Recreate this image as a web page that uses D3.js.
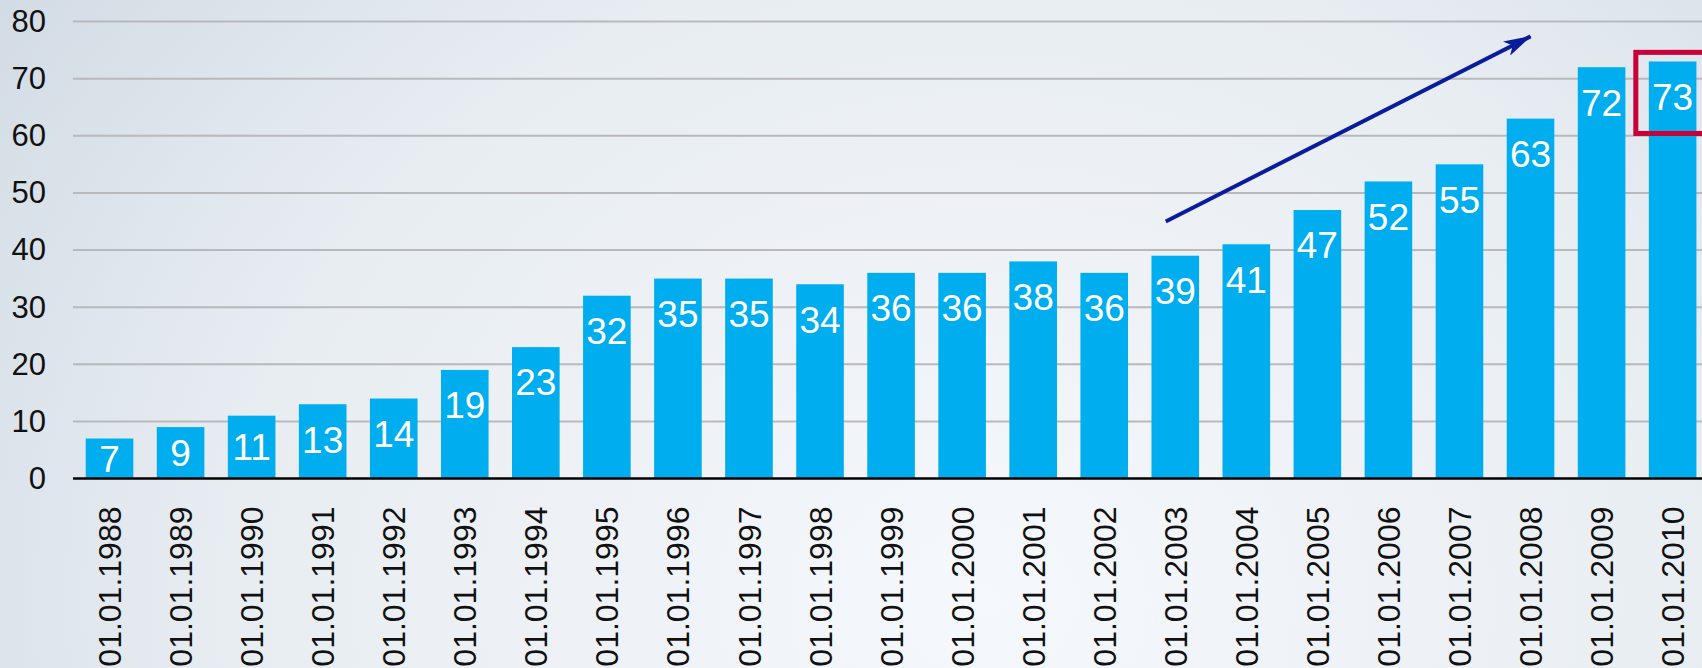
<!DOCTYPE html>
<html>
<head>
<meta charset="utf-8">
<script src="https://cdn.jsdelivr.net/npm/d3@7"></script>
<style>
  html, body { margin: 0; padding: 0; overflow: hidden; }
  svg { display: block; font-family: "Liberation Sans", Arial, sans-serif; }
</style>
</head>
<body>
<div id="chart"></div>
<script>
const categories = ['01.01.1988', '01.01.1989', '01.01.1990', '01.01.1991', '01.01.1992', '01.01.1993',
    '01.01.1994', '01.01.1995', '01.01.1996', '01.01.1997', '01.01.1998', '01.01.1999', '01.01.2000',
    '01.01.2001', '01.01.2002', '01.01.2003', '01.01.2004', '01.01.2005', '01.01.2006', '01.01.2007',
    '01.01.2008', '01.01.2009', '01.01.2010'];
const values = [7, 9, 11, 13, 14, 19, 23, 32, 35, 35, 34, 36, 36, 38, 36, 39, 41, 47, 52, 55, 63, 72, 73];
const yTicks = [0, 10, 20, 30, 40, 50, 60, 70, 80];

// trend arrow and highlight, in data units
const arrowFrom = {cat: '01.01.2003', at: 0.3, value: 45};
const arrowTo = {cat: '01.01.2008', at: 0.5, value: 77.4};
const highlight = {cat: '01.01.2010', top: 74.6, bottom: 60.4};

const W = 1702, H = 668;
const margin = {top: 21.5, left: 74, bottom: 189.5};
const plotBottom = H - margin.bottom;

const svg = d3.select('#chart').append('svg')
    .attr('width', W)
    .attr('height', H);

// -- background
const defs = svg.append('defs');
const grad = defs.append('radialGradient')
    .attr('id', 'bg')
    .attr('cx', '0.58').attr('cy', '0.9').attr('r', '0.8')
    .attr('gradientTransform', 'translate(0.58,0.9) scale(1,2.2) translate(-0.58,-0.9)');
grad.append('stop').attr('offset', '0').attr('stop-color', '#f5f8fc');
grad.append('stop').attr('offset', '0.55').attr('stop-color', '#e8edf2');
grad.append('stop').attr('offset', '1').attr('stop-color', '#cbd6e0');
svg.append('rect').attr('width', W).attr('height', H).attr('fill', 'url(#bg)');

const marker = defs.append('marker')
    .attr('id', 'arrowhead')
    .attr('viewBox', '0 0 28 16')
    .attr('refX', 27).attr('refY', 8)
    .attr('markerWidth', 28).attr('markerHeight', 16)
    .attr('markerUnits', 'userSpaceOnUse')
    .attr('orient', 'auto');
marker.append('path').attr('d', 'M0,0 L28,8 L0,16 L7,8 Z').attr('fill', '#0a1c9c');

// -- scales
const x = d3.scaleBand()
    .domain(categories)
    .range([margin.left, margin.left + 71.05 * categories.length])
    .paddingInner(0.33)
    .paddingOuter(0.165);

const y = d3.scaleLinear()
    .domain([0, 80])
    .range([plotBottom, margin.top]);

// -- grid
svg.append('g')
    .attr('class', 'grid')
    .selectAll('line')
    .data(yTicks.filter(d => d > 0))
    .enter().append('line')
    .attr('x1', margin.left - 1).attr('x2', W)
    .attr('y1', d => y(d)).attr('y2', d => y(d))
    .attr('stroke', '#b9b9bc')
    .attr('stroke-width', 2);

// -- y axis
const yAxis = d3.axisLeft(y).tickValues(yTicks).tickSize(0).tickPadding(28);
svg.append('g')
    .attr('class', 'y-axis')
    .attr('transform', 'translate(' + margin.left + ',0)')
    .call(yAxis)
    .call(g => g.select('.domain').remove())
    .selectAll('.tick text')
    .attr('font-size', 31)
    .attr('fill', '#111');

// -- bars
svg.append('g')
    .attr('class', 'bars')
    .selectAll('rect')
    .data(values)
    .enter().append('rect')
    .attr('x', (d, i) => x(categories[i]))
    .attr('y', d => y(d))
    .attr('width', x.bandwidth())
    .attr('height', d => plotBottom - y(d))
    .attr('fill', '#00aeef');

// -- bar labels
svg.append('g')
    .attr('class', 'labels')
    .selectAll('text')
    .data(values)
    .enter().append('text')
    .attr('x', (d, i) => x(categories[i]) + x.bandwidth() / 2)
    .attr('y', d => Math.min(y(d) + 35, (y(d) + plotBottom) / 2))
    .attr('dy', '0.36em')
    .attr('text-anchor', 'middle')
    .attr('font-size', 37)
    .attr('fill', '#fff')
    .text(d => d);

// -- x axis
const xAxis = d3.axisBottom(x).tickSize(0).tickPadding(0);
svg.append('g')
    .attr('class', 'x-axis')
    .attr('transform', 'translate(0,' + plotBottom + ')')
    .call(xAxis)
    .call(g => g.select('.domain').remove())
    .selectAll('.tick text')
    .attr('font-size', 32)
    .attr('fill', '#111')
    .attr('text-anchor', 'end')
    .attr('transform', 'translate(0,28) rotate(-90)')
    .attr('x', 0)
    .attr('y', 0)
    .attr('dy', '0.36em');

svg.append('line')
    .attr('x1', margin.left - 1).attr('x2', W)
    .attr('y1', plotBottom).attr('y2', plotBottom)
    .attr('stroke', '#000')
    .attr('stroke-width', 2.5);

// -- annotations
svg.append('line')
    .attr('x1', x(arrowFrom.cat) + x.bandwidth() * arrowFrom.at)
    .attr('y1', y(arrowFrom.value))
    .attr('x2', x(arrowTo.cat) + x.bandwidth() * arrowTo.at)
    .attr('y2', y(arrowTo.value))
    .attr('stroke', '#0a1c9c')
    .attr('stroke-width', 4)
    .attr('marker-end', 'url(#arrowhead)');

svg.append('rect')
    .attr('x', x(highlight.cat) - 13)
    .attr('y', y(highlight.top))
    .attr('width', 120)
    .attr('height', y(highlight.bottom) - y(highlight.top))
    .attr('fill', 'none')
    .attr('stroke', '#c8003a')
    .attr('stroke-width', 5);
</script>
</body>
</html>
